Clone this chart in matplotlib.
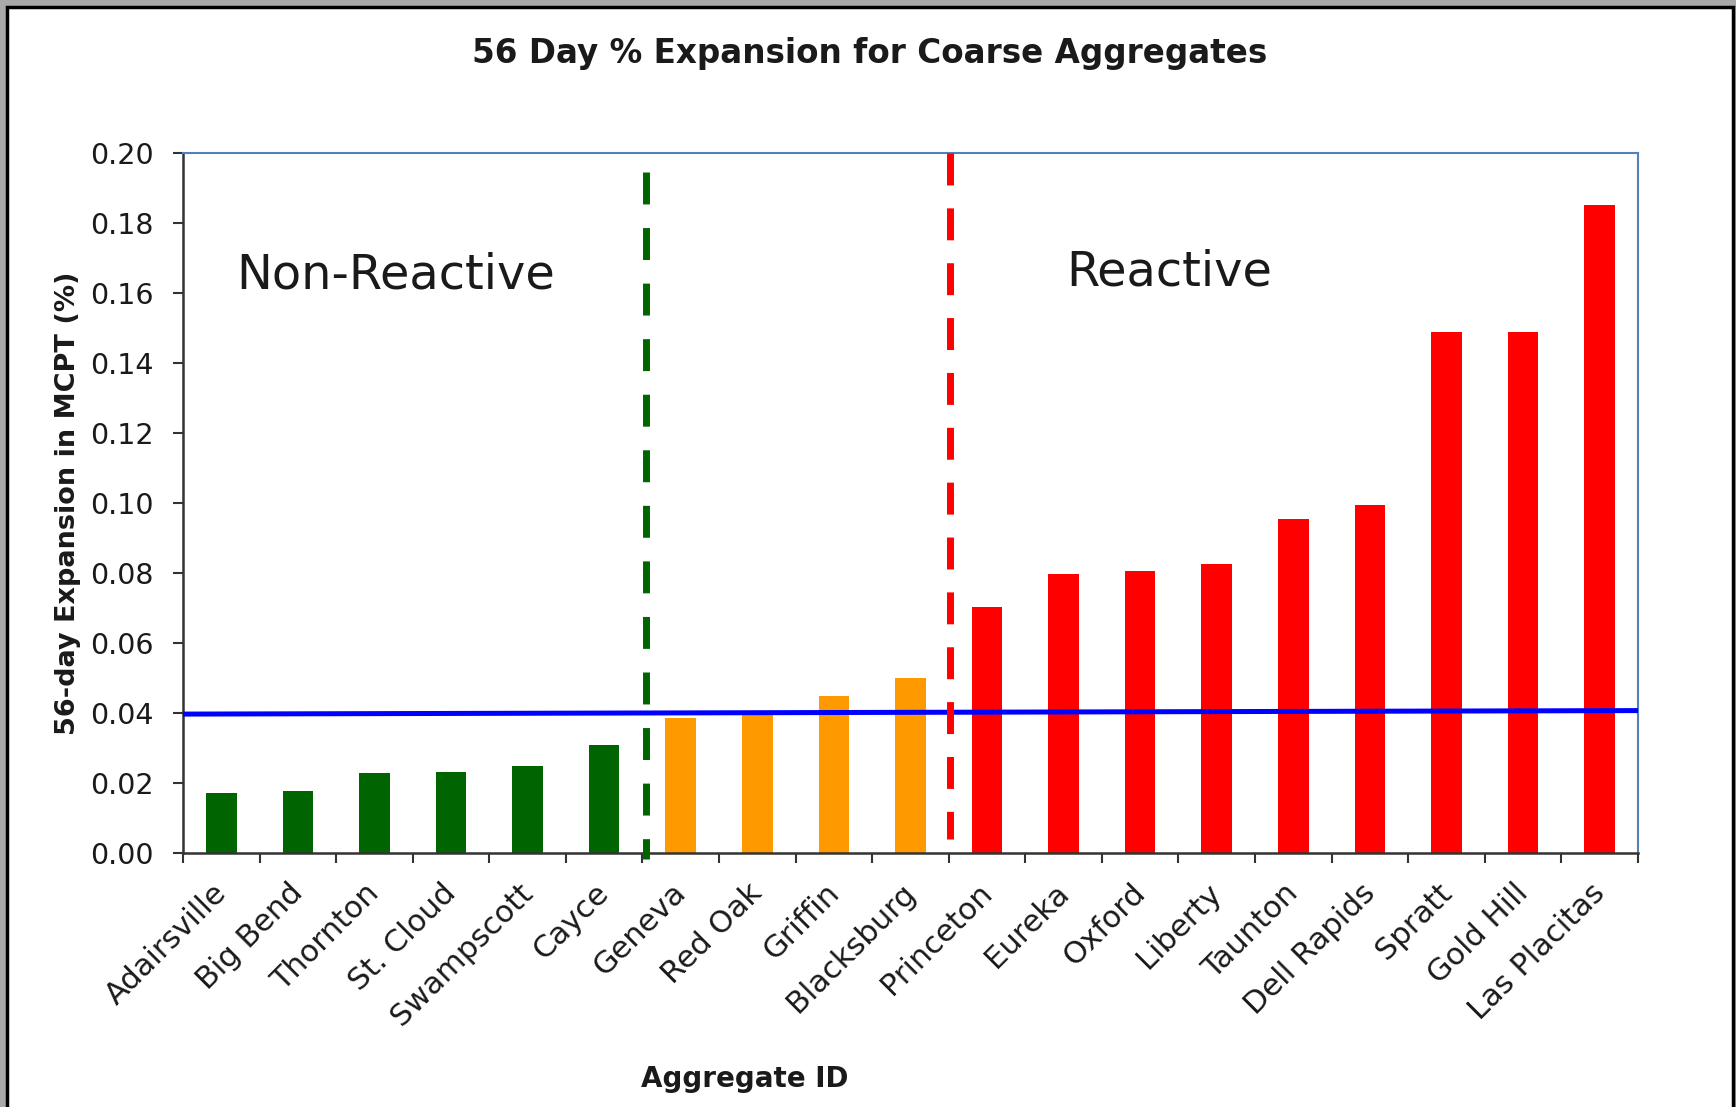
import numpy as np
import matplotlib
matplotlib.use("Agg")
import matplotlib.pyplot as plt
from matplotlib.patches import Rectangle

# Données
aggregates = ["Adairsville", "Big Bend", "Thornton", "St. Cloud", "Swampscott",
              "Cayce", "Geneva", "Red Oak", "Griffin", "Blacksburg", "Princeton",
              "Eureka", "Oxford", "Liberty", "Taunton", "Dell Rapids", "Spratt",
              "Gold Hill", "Las Placitas"]
expansion = [0.0171, 0.0177, 0.0229, 0.0231, 0.0249, 0.0309, 0.0386, 0.0395,
             0.0449, 0.0500, 0.0703, 0.0797, 0.0805, 0.0825, 0.0955, 0.0993,
             0.1488, 0.1488, 0.1851]
groups = ["non"] * 6 + ["border"] * 4 + ["reactive"] * 9
limit_line = [0.0397, 0.0407]   # ligne bleue (début, fin)
yticks = [0.00, 0.02, 0.04, 0.06, 0.08, 0.10, 0.12, 0.14, 0.16, 0.18, 0.20]

group_colors = {"non": "#006400", "border": "#FF9900", "reactive": "#FF0000"}

fig = plt.figure(figsize=(17.36, 11.07), dpi=100)
fig.patch.set_facecolor("#a9a9a9")
# cadre blanc avec bordure noire
fig.add_artist(Rectangle((0.004, -0.02), 0.9943, 1.0137, transform=fig.transFigure,
                         facecolor="white", edgecolor="black", lw=2.5, zorder=-1))

ax = fig.add_axes([0.1054, 0.2294, 0.8381, 0.6324])
x = np.arange(len(aggregates))
colors = [group_colors[g] for g in groups]
ax.bar(x, expansion, width=0.4, color=colors, zorder=2)

# limite 0.04 %
ax.plot([x[0] - 0.5, x[-1] + 0.5], limit_line, color="#0000FF", lw=3.6, zorder=3)

# séparateurs pointillés
ax.plot([5.55, 5.55], [0.1946, -0.0017], color="#006400", lw=5, dashes=(4.6, 3.4),
        zorder=4, clip_on=False)
ax.plot([9.52, 9.52], [0.2, 0.004], color="#FF0000", lw=5, dashes=(4.6, 3.3),
        zorder=4, clip_on=False)

ax.text(0.19, 0.165, "Non-Reactive", fontsize=34.5, va="center", ha="left", color="#1a1a1a")
ax.text(11.03, 0.166, "Reactive", fontsize=34.5, va="center", ha="left", color="#1a1a1a")

ax.set_xlim(-0.5, len(aggregates) - 0.5)
ax.set_ylim(0, 0.2)
ax.set_yticks(yticks)
ax.set_yticklabels([f"{v:.2f}" for v in yticks], fontsize=20.5, color="#1a1a1a")
# étiquettes légèrement décalées à droite du centre des barres
ax.set_xticks(x + 0.14)
ax.set_xticklabels(aggregates, rotation=45, ha="right", va="top", fontsize=22,
                   color="#1a1a1a")
ax.set_xticks(np.arange(-0.5, len(aggregates)), minor=True)
ax.tick_params(axis="x", which="major", length=0, pad=18)
ax.tick_params(axis="x", which="minor", length=7, width=1.5, color="#333333")
ax.tick_params(axis="y", length=7, width=1.5, color="#333333", pad=14)

for side in ["left", "bottom"]:
    ax.spines[side].set_color("#333333")
    ax.spines[side].set_linewidth(1.8)
for side in ["top", "right"]:
    ax.spines[side].set_color("#4F81BD")
    ax.spines[side].set_linewidth(1.5)

fig.text(0.501, 0.952, "56 Day % Expansion for Coarse Aggregates", fontsize=23.5,
         fontweight="bold", ha="center", va="center", color="#1a1a1a")
fig.text(0.039, 0.545, "56-day Expansion in MCPT (%)", fontsize=19.5, fontweight="bold",
         rotation=90, ha="center", va="center", color="#1a1a1a")
fig.text(0.429, 0.025, "Aggregate ID", fontsize=20, fontweight="bold",
         ha="center", va="center", color="#1a1a1a")

fig.savefig("out.png", dpi=100, facecolor=fig.get_facecolor())
